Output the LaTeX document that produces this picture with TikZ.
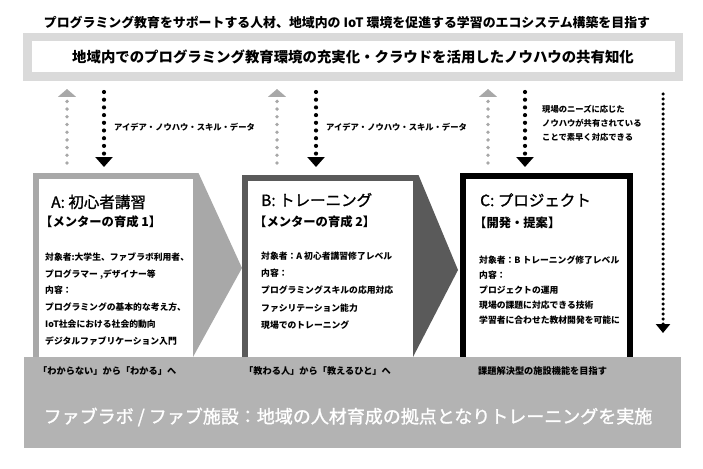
\documentclass[tikz,border=0pt]{standalone}
\usepackage{fontspec}
\setmainfont{Noto Sans CJK JP}
\newfontfamily\midfont[FakeBold=1.3]{Noto Sans CJK JP}
\usetikzlibrary{arrows.meta}

\definecolor{stageA}{HTML}{A8A8A8}
\definecolor{stageB}{HTML}{5A5A5A}
\definecolor{goalgray}{HTML}{DADADA}
\definecolor{bandgray}{HTML}{B3B3B3}
\definecolor{upgray}{HTML}{A8A8A8}

\newcommand*{\fsz}[2]{\fontsize{#1}{#2}\selectfont}
\newcommand*{\stagebox}[6]{%
\fill[#6] (#1,#2) -- ({#3+5.5},#2) -- (#4,#5) -- (#3,\bandtop) -- (#1,\bandtop) -- cycle;
\fill[white] ({#1+5.5},{#2+5.5}) rectangle (#3,\bandtop);}
\newcommand*{\exchange}[3]{%
\coordinate (#3-up0) at (#1,163);
\coordinate (#3-up1) at (#1,89);
\coordinate (#3-dn0) at (#2,92);
\coordinate (#3-dn1) at (#2,167);
\draw[upflow] (#3-up0) to (#3-up1);
\draw[downflow] (#3-dn0) to (#3-dn1);}

\tikzset{
  upflow/.style={upgray, line width=3.8pt, line cap=round, dash pattern=on 0pt off 7.7pt,
    -{Triangle[width=18pt,length=8pt]}},
  downflow/.style={black, line width=4.2pt, line cap=round, dash pattern=on 0pt off 7.7pt,
    -{Triangle[width=17pt,length=10pt]}},
  needflow/.style={black, line width=3.5pt, line cap=round, dash pattern=on 0pt off 5pt,
    -{Triangle[width=14pt,length=9pt]}},
  txt/.style={inner sep=0pt, anchor=west},
  para/.style={inner sep=0pt, anchor=north west, align=left},
  share/.style={txt, font=\bfseries\fsz{8.3}{14}},
  title/.style={txt, font=\midfont\fsz{15.5}{18}},
  sub/.style={txt, font=\bfseries\fsz{12.3}{14}},
  body/.style={para, font=\bfseries\fsz{8.8}{#1}},
  outcome/.style={txt, font=\bfseries\fsz{9.2}{11}},
}

\begin{document}
\begin{tikzpicture}[x=1pt, y=-1pt]
\def\bandtop{357}
\useasboundingbox (0,0) rectangle (703,468);

\node[inner sep=0pt, font=\bfseries\fsz{12.9}{14}] (goal) at (347,22)
  {プログラミング教育をサポートする人材、地域内の IoT 環境を促進する学習のエコシステム構築を目指す};
\node[draw=goalgray, line width=8.5pt, fill=white, minimum width=651.5pt, minimum height=39.5pt,
  inner sep=0pt, font=\bfseries\fsz{14.4}{16}] (vision) at (353,57)
  {地域内でのプログラミング教育環境の充実化・クラウドを活用したノウハウの共有知化};

% exchange with the shared layer
\exchange{67}{104}{xA}
\exchange{277}{316}{xB}
\exchange{488}{525}{xC}
\coordinate (need0) at (663,94);
\coordinate (need1) at (663,333);
\draw[needflow] (need0) to (need1);

\node[share] (shareA) at (114,127) {アイデア・ノウハウ・スキル・データ};
\node[share] (shareB) at (326,127) {アイデア・ノウハウ・スキル・データ};
\node[share, para] (shareC) at (542,104.8)
  {現場のニーズに応じた\\ノウハウが共有されている\\ことで素早く対応できる};

% stages
\stagebox{33}{173}{193}{242}{268}{stageA}
\stagebox{242}{175}{413}{458}{270}{stageB}
\fill (460,173) rectangle (633,\bandtop);
\fill[white] (466,179) rectangle (627,\bandtop);

\node[title] (titleA) at (51,202) {A: 初心者講習};
\node[sub] (subA) at (40,222) {【メンターの育成 1】};
\node[body=16.7] (bodyA) at (45,252.6)
  {対象者:大学生、ファブラボ利用者、\\プログラマー ,デザイナー等\\内容：\\
   プログラミングの基本的な考え方、\\IoT社会における社会的動向\\デジタルファブリケーション入門};

\node[title] (titleB) at (261,200) {B: トレーニング};
\node[sub] (subB) at (254,222) {【メンターの育成 2】};
\node[body=17.3] (bodyB) at (261,251.6)
  {対象者：A 初心者講習修了レベル\\内容：\\プログラミングスキルの応用対応\\
   ファシリテーション能力\\現場でのトレーニング};

\node[title] (titleC) at (480,200) {C: プロジェクト};
\node[sub] (subC) at (474,223) {【開発・提案】};
\node[body=15] (bodyC) at (479,255.6)
  {対象者：B トレーニング修了レベル\\内容：\\プロジェクトの運用\\
   現場の課題に対応できる技術\\学習者に合わせた教材開発を可能に};

% base
\fill[bandgray] (24,\bandtop) rectangle (681,448);
\node[outcome] (outA) at (38,371) {「わからない」から「わかる」へ};
\node[outcome] (outB) at (244,371) {「教わる人」から「教えるひと」へ};
\node[outcome] (outC) at (478,371) {課題解決型の施設機能を目指す};
\node[inner sep=0pt, white, font=\midfont\fsz{18}{20}] (base) at (348,417)
  {ファブラボ / ファブ施設：地域の人材育成の拠点となりトレーニングを実施};
\end{tikzpicture}
\end{document}
